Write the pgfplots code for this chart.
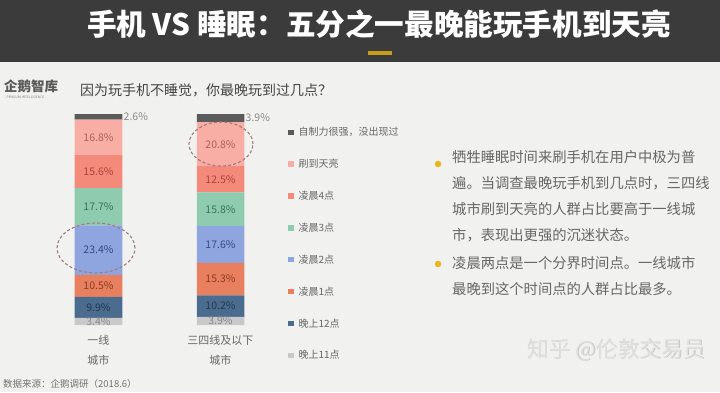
\documentclass[border=0pt]{standalone}
\usepackage{fontspec}
\usepackage{pgfplots}
\pgfplotsset{compat=1.18}
\setmainfont{Noto Sans CJK SC}
\definecolor{bg}{HTML}{F1F2F0}
\definecolor{banner}{HTML}{3B3B3B}
\definecolor{cA}{HTML}{C9C9C9}
\definecolor{cB}{HTML}{4A6D8F}
\definecolor{cC}{HTML}{E8805F}
\definecolor{cD}{HTML}{8FA5E0}
\definecolor{cE}{HTML}{8FCBAE}
\definecolor{cF}{HTML}{F48A7A}
\definecolor{cG}{HTML}{F8AEA4}
\definecolor{cH}{HTML}{5B5B5B}
\definecolor{lA}{HTML}{8A8A8A}
\definecolor{lB}{HTML}{23384F}
\definecolor{lC}{HTML}{8C3B22}
\definecolor{lD}{HTML}{2F4B86}
\definecolor{lE}{HTML}{3B7558}
\definecolor{lF}{HTML}{A8453B}
\definecolor{lG}{HTML}{B0605A}
\definecolor{txtgray}{HTML}{666666}
\definecolor{qgray}{HTML}{444444}
\definecolor{ell}{HTML}{9C7B7B}
\definecolor{yel}{HTML}{E8B820}
\pgfplotsset{sqlegend/.style={legend image code/.code={\fill[##1] (0pt,-2.6pt) rectangle (5.4pt,2.6pt);}}}
\tikzset{pl/.style={font=\fontsize{10.5}{10.5}\selectfont, inner sep=0pt}}
\begin{document}
\begin{tikzpicture}[x=1pt,y=1pt]
\fill[bg] (0,0) rectangle (720,392);
\fill[banner] (0,330) rectangle (720,392);
\fill[yel!85!black] (368,337) rectangle (392,341);
\node[text=white, font=\fontsize{29.6}{29.6}\selectfont\bfseries] at (379,368) {手机 VS 睡眠：五分之一最晚能玩手机到天亮};
\node[anchor=base west, inner sep=0pt, text=black!65, font=\fontsize{13.5}{13.5}\selectfont\bfseries] at (4,301) {企鹅智库};
\node[anchor=west, inner sep=0pt, text=black!50, font=\fontsize{3.3}{4}\selectfont] at (4,295) {-- PENGUIN INTELLIGENCE --};
\node[anchor=base west, inner sep=0pt, text=qgray, font=\fontsize{14}{14}\selectfont] at (80,296.7) {因为玩手机不睡觉，你最晚玩到过几点？};
\begin{axis}[
  at={(37.5pt,67pt)}, anchor=south west,
  scale only axis, width=244pt, height=211pt,
  xmin=-0.5, xmax=1.5, ymin=0, ymax=100,
  ybar stacked, bar width=47.5pt,
  axis line style={draw=none}, major tick length=0pt, ytick=\empty,
  xtick={0,1}, xticklabels={{一线\\城市},{三四线及以下\\城市}},
  xticklabel style={align=center, font=\fontsize{11}{20}\selectfont, text=txtgray, inner sep=0pt, yshift=-10pt},
  sqlegend,
  reverse legend,
  legend cell align=left,
  legend style={at={(1.0266,0.948)}, anchor=north west, draw=none, fill=none, inner sep=0pt,
    font=\fontsize{10}{10}\selectfont, text=txtgray, row sep=18pt, column sep=3pt},
  clip=false,
]
\addplot[fill=cA, draw=none] coordinates {(0,3.4) (1,3.9)};
\addlegendentry{晚上11点}
\addplot[fill=cB, draw=none] coordinates {(0,9.9) (1,10.2)};
\addlegendentry{晚上12点}
\addplot[fill=cC, draw=none] coordinates {(0,10.5) (1,15.3)};
\addlegendentry{凌晨1点}
\addplot[fill=cD, draw=none] coordinates {(0,23.4) (1,17.6)};
\addlegendentry{凌晨2点}
\addplot[fill=cE, draw=none] coordinates {(0,17.7) (1,15.8)};
\addlegendentry{凌晨3点}
\addplot[fill=cF, draw=none] coordinates {(0,15.6) (1,12.5)};
\addlegendentry{凌晨4点}
\addplot[fill=cG, draw=none] coordinates {(0,16.8) (1,20.8)};
\addlegendentry{刷到天亮}
\addplot[fill=cH, draw=none] coordinates {(0,2.6) (1,3.9)};
\addlegendentry{自制力很强，没出现过}
\coordinate (a1) at (axis cs:0,1.7);
\coordinate (a2) at (axis cs:0,8.35);
\coordinate (a3) at (axis cs:0,18.55);
\coordinate (a4) at (axis cs:0,35.5);
\coordinate (a5) at (axis cs:0,56.05);
\coordinate (a6) at (axis cs:0,72.7);
\coordinate (a7) at (axis cs:0,88.9);
\coordinate (a8) at (axis cs:0.205,98.6);
\coordinate (b1) at (axis cs:1,1.95);
\coordinate (b2) at (axis cs:1,9.0);
\coordinate (b3) at (axis cs:1,21.75);
\coordinate (b4) at (axis cs:1,38.2);
\coordinate (b5) at (axis cs:1,54.9);
\coordinate (b6) at (axis cs:1,69.05);
\coordinate (b7) at (axis cs:1,85.7);
\coordinate (b8) at (axis cs:1.205,98.05);
\end{axis}
\node[pl, text=lA] at (a1) {3.4\%};
\node[pl, text=lB] at (a2) {9.9\%};
\node[pl, text=lC] at (a3) {10.5\%};
\node[pl, text=lD] at (a4) {23.4\%};
\node[pl, text=lE] at (a5) {17.7\%};
\node[pl, text=lF] at (a6) {15.6\%};
\node[pl, text=lG] at (a7) {16.8\%};
\node[pl, text=lA, anchor=west] at (a8) {2.6\%};
\node[pl, text=lA] at (b1) {3.9\%};
\node[pl, text=lB] at (b2) {10.2\%};
\node[pl, text=lC] at (b3) {15.3\%};
\node[pl, text=lD] at (b4) {17.6\%};
\node[pl, text=lE] at (b5) {15.8\%};
\node[pl, text=lF] at (b6) {12.5\%};
\node[pl, text=lG] at (b7) {20.8\%};
\node[pl, text=lA, anchor=west] at (b8) {3.9\%};
\draw[ell, line width=1.1pt, dash pattern=on 3pt off 2.2pt] (96,144) ellipse [x radius=39, y radius=25];
\draw[ell, line width=1.1pt, dash pattern=on 3pt off 2.2pt] (221,248) ellipse [x radius=32, y radius=22];
\fill[yel] (438,228) circle (3.3);
\fill[yel] (438,128) circle (3.3);
\node[anchor=base west, inner sep=0pt, text=txtgray, font=\fontsize{14.3}{26}\selectfont] at (452,229.6) {牺牲睡眠时间来刷手机在用户中极为普};
\node[anchor=base west, inner sep=0pt, text=txtgray, font=\fontsize{14.3}{26}\selectfont] at (452,203.6) {遍。当调查最晚玩手机到几点时，三四线};
\node[anchor=base west, inner sep=0pt, text=txtgray, font=\fontsize{14.3}{26}\selectfont] at (452,177.6) {城市刷到天亮的人群占比要高于一线城};
\node[anchor=base west, inner sep=0pt, text=txtgray, font=\fontsize{14.3}{26}\selectfont] at (452,151.6) {市，表现出更强的沉迷状态。};
\node[anchor=base west, inner sep=0pt, text=txtgray, font=\fontsize{14.3}{26}\selectfont] at (452,123.6) {凌晨两点是一个分界时间点。一线城市};
\node[anchor=base west, inner sep=0pt, text=txtgray, font=\fontsize{14.3}{26}\selectfont] at (452,97.6) {最晚到这个时间点的人群占比最多。};
\node[anchor=west, inner sep=0pt, text=black!22, font=\fontsize{21.8}{21.8}\selectfont] at (527.6,41.4) {知乎 @伦敦交易员};
\node[anchor=west, inner sep=0pt, text=black!12, font=\fontsize{21.8}{21.8}\selectfont] at (527,42) {知乎 @伦敦交易员};
\node[anchor=base west, inner sep=0pt, text=black!55, font=\fontsize{9.5}{9.5}\selectfont] at (3,4.4) {数据来源：企鹅调研（2018.6）};
\end{tikzpicture}
\end{document}
